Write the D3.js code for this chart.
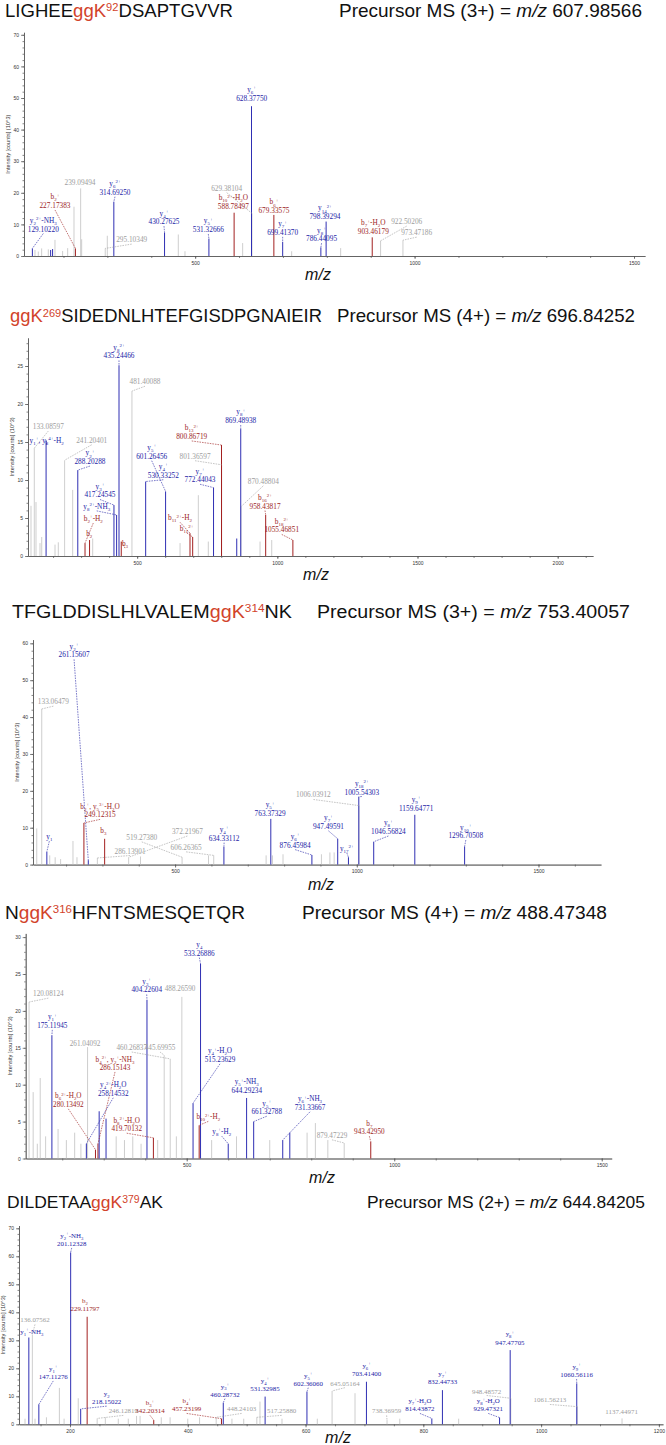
<!DOCTYPE html>
<html><head><meta charset="utf-8">
<script src="https://cdn.jsdelivr.net/npm/d3@7"></script>
<style>body{margin:0;background:#fff}svg{display:block}</style>
</head><body>
<svg id="c" width="666" height="1445"></svg>
<script>
// ================= DATA =================
const titleParts = [
  ["LIGHEE","ggK","92","DSAPTGVVR"],
  ["","ggK","269","SIDEDNLHTEFGISDPGNAIEIR"],
  ["TFGLDDISLHLVALEM","ggK","314","NK"],
  ["N","ggK","316","HFNTSMESQETQR"],
  ["DILDETAA","ggK","379","AK"]
];
const precursorCharge = ["3+","4+","3+","4+","2+"];
const precursorMz = ["607.98566","696.84252","753.40057","488.47348","644.84205"];
const yAxisTitle = "Intensity [counts] (10^3)";

// ---- panel 1 ----
const p1YTicks = [0,10,20,30,40,50,60,70];
const p1XTicks = [500,1000,1500];
const p1Peaks = [
  [129.10,2.4,'y'],[135,1.9,'u'],[142.6,1.4,'u'],[150.2,2.4,'u'],[165.4,2.1,'u'],[170.7,1.9,'y'],
  [175.12,2.2,'y'],[180.6,5.1,'u'],[198,1.6,'u'],[209.5,2.5,'u'],[223.9,15.6,'u'],[227.17,2.4,'b'],
  [239.09,21.4,'u'],[241.4,5.3,'u'],[295.10,2.4,'u'],[299.8,6.4,'u'],[314.69,17.2,'y'],[430.28,7.4,'y'],
  [461.6,6.8,'u'],[476.8,1.5,'u'],[531.33,5.5,'y'],[588.78,13.7,'b'],[608.2,4.1,'u'],[629.38,13.5,'u'],
  [628.38,47.4,'y'],[679.34,13.0,'b'],[699.41,4.5,'y'],[719.9,1.5,'u'],[786.44,2.7,'y'],[798.39,10.9,'y'],
  [831.5,2.5,'u'],[903.46,5.9,'b'],[922.50,4.8,'u'],[973.47,5.0,'u']
];
const p1Labels = [
  [129.10,'y_{2}^{2+}-NH_{3}','129.10220','y'],
  [227.17,'b_{2}^{+}','227.17383','b'],
  [239.09,'','239.09494','u'],
  [314.69,'y_{6}^{2+}','314.69250','y'],
  [295.10,'','295.10349','u'],
  [430.28,'y_{4}^{+}','430.27625','y'],
  [531.33,'y_{5}^{+}','531.32666','y'],
  [629.38,'','629.38104','u'],
  [588.78,'b_{10}^{2+}-H_{2}O','588.78497','b'],
  [628.38,'y_{6}^{+}','628.37750','y'],
  [679.34,'b_{6}^{+}','679.33575','b'],
  [699.41,'y_{7}^{+}','699.41370','y'],
  [798.39,'y_{14}^{2+}','798.39294','y'],
  [786.44,'y_{8}^{+}','786.44095','y'],
  [903.46,'b_{7}^{+}-H_{2}O','903.46179','b'],
  [922.50,'','922.50206','u'],
  [973.47,'','973.47186','u']
];
const p1LabelAt = [[154,7.75],[180.6,15.2],[237.6,22.5],[317.3,19.4],[355.4,4.4],[429,10.1],[530,7.6],
  [571.8,20.7],[587,14.9],[628.8,49.2],[679.6,13.6],[699.4,6.7],[795.8,11.7],[788,4.7],[905.9,7],[982,10.1],[1004.7,6.6]];

// ---- panel 2 ----
const p2YTicks = [0,5,10,15,20,25];
const p2XTicks = [500,1000,1500,2000];
const p2Peaks = [
  [121.3,6.6,'u'],[133.09,14.2,'u'],[139.1,7.1,'u'],[153.4,1.7,'u'],[159.5,2.5,'u'],[175.12,15.2,'y'],
  [207,1.5,'u'],[218.7,1.8,'u'],[241.20,12.6,'u'],[270,8.7,'u'],[288.20,11.3,'y'],[314,1.7,'b'],
  [330.18,2.1,'b'],[341.4,2.3,'u'],[417.25,6.7,'y'],[426.73,5.4,'y'],[435.24,25.1,'y'],[443.26,1.9,'b'],
  [481.40,21.7,'u'],[530.33,9.8,'y'],[601.36,8.5,'y'],[653,1.7,'u'],[688.5,3.0,'b'],[698,2.5,'b'],
  [718.2,8.0,'u'],[753.8,1.9,'u'],[772.44,9.0,'y'],[801.37,12,'u'],[800.87,14.6,'b'],[855.2,2.3,'y'],
  [870.49,6.5,'u'],[869.49,16.7,'y'],[938.3,1.9,'u'],[958.44,5.4,'b'],[980,2.1,'u'],[1055.47,2.1,'b']
];
const p2Labels = [
  [133.09,'','133.08597','u'],
  [175.12,'y_{1}^{+}, y_{8}^{4+}-H_{2}','','y'],
  [241.20,'','241.20401','u'],
  [288.20,'y_{2}^{+}','288.20288','y'],
  [417.25,'y_{3}^{+}','417.24545','y'],
  [426.73,'y_{8}^{2+}-NH_{3}','','y'],
  [314,'b_{2}^{+}-H_{2}','','b'],
  [330.18,'b_{2}','','b'],
  [435.24,'y_{8}^{2+}','435.24466','y'],
  [443.26,'b_{3}','','b'],
  [481.40,'','481.40088','u'],
  [601.36,'y_{5}^{+}','601.26456','y'],
  [530.33,'y_{4}^{+}','530.33252','y'],
  [772.44,'y_{7}^{+}','772.44043','y'],
  [800.87,'b_{13}^{2+}','800.86719','b'],
  [801.37,'','801.36597','u'],
  [869.49,'y_{8}^{+}','869.48938','y'],
  [870.49,'','870.48804','u'],
  [958.44,'b_{16}^{2+}','958.43817','b'],
  [1055.47,'b_{18}^{2+}','1055.46851','b'],
  [688.5,'b_{11}^{2+}-H_{2}','','b'],
  [698,'b_{11}^{2+}','','b']
];
const p2LabelAt = [[183,16.7],[177.3,14.9],[337.8,14.9],[331.7,12.1],[367.4,7.7],[355.7,6.2],[343.5,4.6],
  [329.2,2.6],[435.2,26],[456.6,1.3],[528,22.6],[551.9,12.8],[593.3,10.3],[724.2,9.7],[694.6,15.4],
  [706.4,12.8],[869.4,17.5],[950,9.5],[956.1,6.25],[1015.7,3.1],[652.9,4.7],[676.8,3.3]];

// ---- panel 3 ----
const p3YTicks = [0,10,20,30,40,50,60];
const p3XTicks = [500,1000,1500];
const p3Peaks = [
  [119.3,9.8,'u'],[133.06,42.2,'u'],[147.11,3.5,'y'],[155,2.5,'u'],[170,2,'u'],[185,1.5,'u'],
  [219,6.4,'u'],[230,2,'u'],[249.12,11.3,'b'],[261.16,1.2,'y'],[286.14,1.8,'u'],[306.14,7.0,'b'],
  [372.22,2,'u'],[404.9,2.2,'u'],[519.27,2,'u'],[592,2.5,'u'],[606.26,2.5,'u'],[634.33,4.8,'y'],
  [750.5,2.5,'u'],[763.37,12.4,'y'],[767.9,2.5,'u'],[797,2.8,'u'],[876.46,2.6,'y'],[902.7,2.8,'u'],
  [926,3.3,'u'],[937.7,3.3,'u'],[947.50,7,'y'],[977.03,2,'y'],[1006.04,16,'u'],[1005.54,18.4,'y'],
  [1046.57,6.2,'y'],[1159.65,13.5,'y'],[1296.71,4.9,'y']
];
const p3Labels = [
  [261.16,'y_{2}^{+}','261.15607','y'],
  [133.06,'','133.06479','u'],
  [249.12,'b_{2}^{+}, y_{5}^{3+}-H_{2}O','249.12315','b'],
  [306.14,'b_{3}','','b'],
  [147.11,'y_{1}','','y'],
  [286.14,'','286.13901','u'],
  [519.27,'','519.27380','u'],
  [372.22,'','372.21967','u'],
  [606.26,'','606.26365','u'],
  [634.33,'y_{4}^{+}','634.33112','y'],
  [763.37,'y_{5}^{+}','763.37329','y'],
  [876.46,'y_{6}^{+}','876.45984','y'],
  [1006.04,'','1006.03912','u'],
  [947.50,'y_{7}^{+}','947.49591','y'],
  [977.03,'y_{17}^{2+}','','y'],
  [1005.54,'y_{18}^{2+}','1005.54303','y'],
  [1046.57,'y_{8}^{+}','1046.56824','y'],
  [1159.65,'y_{9}^{+}','1159.64771','y'],
  [1296.71,'y_{10}^{+}','1296.70508','y']
];
const p3LabelAt = [[222,56.2],[165,43.5],[293.6,12.8],[302.6,8.6],[154,6.9],[376,3.0],[408.3,6.7],
  [533.9,8.3],[530.3,4],[634.9,6.5],[761.5,13.2],[830.3,4.6],[880.7,18.2],[922,9.7],[972.6,3.7],
  [1013.9,19],[1087,8.3],[1163.4,14.6],[1300,7.2]];

// ---- panel 4 ----
const p4YTicks = [0,5,10,15,20,25,30];
const p4XTicks = [500,1000,1500];
const p4Peaks = [
  [120.08,21.2,'u'],[130,9,'u'],[140,2,'u'],[147,10.9,'u'],[160,3,'u'],[175.12,16.7,'y'],[190,4,'u'],
  [210,2.5,'u'],[230,3.5,'u'],[245,2,'u'],[258.15,2,'y'],[261.04,15.1,'u'],[280.13,1.2,'b'],
  [286.15,2,'b'],[289,6.4,'y'],[305.6,5.4,'y'],[330,3,'u'],[350,2.5,'u'],[370,3,'u'],[390,2,'u'],
  [404.23,21.5,'y'],[419.70,2.8,'b'],[430,2.5,'u'],[445.70,14,'u'],[460.27,13.5,'u'],[475,3,'u'],
  [488.27,21.9,'u'],[515.24,7.5,'y'],[530,4.5,'b'],[533.27,26.4,'y'],[560,2.5,'u'],[600,2,'y'],
  [620,3,'u'],[644.29,8.2,'y'],[661.33,5,'y'],[700,2.5,'u'],[731.34,2.5,'y'],[748.36,3.5,'y'],
  [790,3.5,'u'],[810,4.8,'u'],[840,2.5,'u'],[879.47,2.1,'u'],[943.43,2.3,'b']
];
const p4Labels = [
  [120.08,'','120.08124','u'],
  [175.12,'y_{1}^{+}','175.11945','y'],
  [261.04,'','261.04092','u'],
  [460.27,'','460.26837','u'],
  [445.70,'','445.69955','u'],
  [286.15,'b_{4}^{2+}, y_{2}^{+}-NH_{3}','286.15143','b'],
  [258.15,'y_{4}^{2+}-H_{2}O','258.14532','y'],
  [280.13,'b_{6}^{2+}-H_{2}O','280.13492','b'],
  [419.70,'b_{8}^{2+}-H_{2}O','419.70132','b'],
  [404.23,'y_{3}^{+}','404.22604','y'],
  [488.27,'','488.26590','u'],
  [533.27,'y_{4}','533.26886','y'],
  [515.24,'y_{4}^{+}-H_{2}O','515.23629','y'],
  [644.29,'y_{5}^{+}-NH_{3}','644.29234','y'],
  [661.33,'y_{5}^{+}','661.32788','y'],
  [731.34,'y_{6}^{+}-NH_{3}','731.33667','y'],
  [530,'b_{10}^{2+}-H_{2}','','b'],
  [600,'y_{8}^{+}-H_{2}','','y'],
  [879.47,'','879.47229','u'],
  [943.43,'b_{7}','943.42950','b']
];
const p4LabelAt = [[166.5,22],[176.1,17.7],[255,15.3],[367.5,14.7],[435.7,14.7],[327.2,12],[323,8.5],
  [214.7,7],[355.4,3.7],[403.6,22.5],[483.9,22.7],[530.4,27.5],[580.2,13.1],[644.6,8.9],[692.8,6],
  [797.1,6.6],[552,5.3],[584.3,3.3],[850,2.8],[940,3.3]];

// ---- panel 5 ----
const p5YTicks = [0,10,20,30,40,50,60,70];
const p5XTicks = [200,400,600,800,1000,1200];
const p5Peaks = [
  [123.6,2,'u'],[130.09,31,'y'],[136.08,32,'u'],[140.6,2,'u'],[147.11,7.1,'y'],[160,2.5,'u'],
  [182,13,'u'],[190,2,'u'],[201.12,61.4,'y'],[214,9.3,'u'],[218.15,5.5,'y'],[229.12,38.4,'b'],
  [246.13,2.1,'u'],[260,2.5,'u'],[282,2,'u'],[299,2,'u'],[313,3,'u'],[319,3,'u'],[342.20,1.5,'b'],
  [355,2.5,'u'],[370,2.5,'u'],[400,2,'u'],[420,2.5,'u'],[448.24,2.5,'u'],[457.23,2,'b'],[460.29,7.7,'y'],
  [475,2,'u'],[495,2,'u'],[517.26,2.5,'u'],[522.6,8.1,'u'],[531.33,9.9,'y'],[560,2,'u'],[602.36,11.6,'y'],
  [620,2,'u'],[645.05,11.9,'u'],[684,11.1,'u'],[703.41,15.2,'y'],[738.37,1.5,'u'],[760,2,'u'],
  [814.44,2.1,'y'],[832.45,12.2,'y'],[860,2,'u'],[929.47,2.4,'y'],[948.49,9.3,'u'],[947.48,26.5,'y'],
  [1061.56,6.3,'u'],[1060.56,14.6,'y'],[1137.45,2.1,'u']
];
const p5Labels = [
  [136.08,'','136.07562','u'],
  [130.09,'y_{1}^{+}-NH_{3}','','y'],
  [147.11,'y_{1}^{+}','147.11276','y'],
  [201.12,'y_{2}^{+}-NH_{3}','201.12328','y'],
  [229.12,'b_{2}','229.11797','b'],
  [218.15,'y_{2}','218.15022','y'],
  [246.13,'','246.12819','u'],
  [342.20,'b_{3}^{+}','342.20314','b'],
  [457.23,'b_{4}^{+}','457.23199','b'],
  [460.29,'y_{3}^{+}','460.28732','y'],
  [448.24,'','448.24103','u'],
  [531.33,'y_{4}^{+}','531.32985','y'],
  [517.26,'','517.25880','u'],
  [602.36,'y_{5}^{+}','602.36060','y'],
  [645.05,'','645.05164','u'],
  [703.41,'y_{6}^{+}','703.41400','y'],
  [738.37,'','738.36959','u'],
  [814.44,'y_{7}^{+}-H_{2}O','814.43872','y'],
  [832.45,'y_{7}^{+}','832.44733','y'],
  [948.49,'','948.48572','u'],
  [929.47,'y_{8}^{+}-H_{2}O','929.47321','y'],
  [947.48,'y_{8}^{+}','947.47705','y'],
  [1061.56,'','1061.56213','u'],
  [1060.56,'y_{9}^{+}','1060.56116','y'],
  [1137.45,'','1137.44971','u']
];
const p5LabelAt = [[140.6,36.4],[135,32.3],[171.6,16.2],[202.9,63.7],[225.5,40.5],[262.3,7.2],[290.5,3.9],
  [335.8,3.9],[398.1,4.6],[463.2,9.9],[491.5,4.6],[531.1,12],[559.4,3.9],[604.6,13.8],[666.9,13.8],
  [703.7,17.3],[737.7,3.9],[794.2,4.6],[832.7,14.3],[907.5,11],[910.2,4.6],[947,28.5],[1015,7.8],
  [1060.3,16.9],[1136.7,3.6]];

// ================= LAYOUT =================
const L = [
 {tY:17, tX:5, tW:228, pW:303, pEnd:642, fs:18.4, ax0:24, ax1:645, xd:[110,1525], y0:256, ppu:3.16, yTop:70.8, xMinor:100, yMinor:2, mzX:318, mzY:280, lfs:7.3},
 {tY:322, tX:10, tW:312, pW:298, pEnd:635, fs:18.2, ax0:28, ax1:593, xd:[110.6,2126], y0:556, ppu:7.6, yTop:28.7, xMinor:100, yMinor:1, mzX:316, mzY:580, lfs:7.3},
 {tY:618, tX:12, tW:280, pW:313, pEnd:630, fs:19.1, ax0:33, ax1:601, xd:[109,1672], y0:864.6, ppu:3.688, yTop:61, xMinor:100, yMinor:2, mzX:321, mzY:890, lfs:7.3},
 {tY:919, tX:5, tW:240, pW:305, pEnd:607, fs:18.7, ax0:25.7, ax1:611.7, xd:[112,1524], y0:1158.5, ppu:7.38, yTop:30.5, xMinor:100, yMinor:1, mzX:322, mzY:1183, lfs:7.2},
 {tY:1208, tX:7, tW:156, pW:278, pEnd:645, fs:17, ax0:19, ax1:663, xd:[113.4,1207], y0:1424.3, ppu:2.8, yTop:71, xMinor:50, yMinor:2, mzX:338, mzY:1443, lfs:6.9}
];
const SANS = "'Liberation Sans', Arial, Helvetica, sans-serif";
const SERIF = "'Liberation Serif', 'Times New Roman', serif";
const RED = '#d2432b';
const LINE = {y:'#2f2fb3', b:'#a32020', u:'#c2c2c2'};
const TXT = {y:'#2323a6', b:'#9c1d1d', u:'#9d9d9d'};

const panels = [
  {peaks:p1Peaks, labels:p1Labels, at:p1LabelAt, yT:p1YTicks, xT:p1XTicks},
  {peaks:p2Peaks, labels:p2Labels, at:p2LabelAt, yT:p2YTicks, xT:p2XTicks},
  {peaks:p3Peaks, labels:p3Labels, at:p3LabelAt, yT:p3YTicks, xT:p3XTicks},
  {peaks:p4Peaks, labels:p4Labels, at:p4LabelAt, yT:p4YTicks, xT:p4XTicks},
  {peaks:p5Peaks, labels:p5Labels, at:p5LabelAt, yT:p5YTicks, xT:p5XTicks}
];

const svg = d3.select('#c');

function rich(sel, s, fs) {
  const re = /(_\{[^}]*\}|\^\{[^}]*\})|([^_^]+)/g;
  let m, cur = 0;
  while ((m = re.exec(s))) {
    let t, off = 0, size = fs;
    if (m[1]) {
      const sub = m[1][0] === '_';
      t = m[1].slice(2, -1);
      off = sub ? fs * 0.28 : -fs * 0.38;
      size = fs * 0.68;
    } else t = m[2];
    sel.append('tspan').attr('dy', (off - cur).toFixed(2)).style('font-size', size + 'px').text(t);
    cur = off;
  }
}

panels.forEach((P, i) => {
  const c = L[i];
  const g = svg.append('g');
  const x = d3.scaleLinear().domain(c.xd).range([c.ax0, c.ax1]);
  const y = d3.scaleLinear().domain([0, c.yTop]).range([c.y0, c.y0 - c.yTop * c.ppu]);

  // title (peptide)
  const tp = titleParts[i];
  const t = g.append('text').attr('x', c.tX).attr('y', c.tY)
    .style('font-family', SANS).style('font-size', c.fs + 'px')
    .attr('textLength', c.tW).attr('lengthAdjust', 'spacingAndGlyphs');
  if (tp[0]) t.append('tspan').attr('fill', '#111').text(tp[0]);
  t.append('tspan').attr('fill', RED).text(tp[1]);
  t.append('tspan').attr('fill', RED).attr('dy', -c.fs * 0.3).style('font-size', (c.fs * 0.6) + 'px').text(tp[2]);
  t.append('tspan').attr('fill', '#111').attr('dy', c.fs * 0.3).text(tp[3]);

  // precursor
  const pt = g.append('text').attr('x', c.pEnd - c.pW).attr('y', c.tY)
    .style('font-family', SANS).style('font-size', c.fs + 'px').attr('fill', '#111')
    .attr('textLength', c.pW).attr('lengthAdjust', 'spacingAndGlyphs');
  pt.append('tspan').text('Precursor MS (' + precursorCharge[i] + ') = ');
  pt.append('tspan').style('font-style', 'italic').text('m/z');
  pt.append('tspan').text(' ' + precursorMz[i]);

  // axes
  const minorX = d3.range(Math.ceil(c.xd[0] / c.xMinor) * c.xMinor, c.xd[1], c.xMinor);
  const minorY = d3.range(0, c.yTop, c.yMinor);
  const axX = g.append('g').attr('transform', `translate(0,${c.y0})`);
  axX.call(d3.axisBottom(x).tickValues(minorX).tickSize(2).tickFormat('').tickSizeOuter(0));
  const axXM = g.append('g').attr('transform', `translate(0,${c.y0})`);
  axXM.call(d3.axisBottom(x).tickValues(P.xT).tickSize(3).tickPadding(2).tickFormat(d3.format('d')).tickSizeOuter(0));
  const axY = g.append('g').attr('transform', `translate(${c.ax0},0)`);
  axY.call(d3.axisLeft(y).tickValues(minorY).tickSize(1.5).tickFormat('').tickSizeOuter(0));
  const axYM = g.append('g').attr('transform', `translate(${c.ax0},0)`);
  axYM.call(d3.axisLeft(y).tickValues(P.yT).tickSize(3).tickPadding(2).tickFormat(d3.format('d')).tickSizeOuter(0));
  [axX, axXM, axY, axYM].forEach(a => {
    a.selectAll('path,line').attr('stroke', '#555').attr('stroke-width', 0.7);
    a.selectAll('text').attr('fill', '#333').style('font-family', SANS).style('font-size', '5px');
  });

  // axis titles
  g.append('text').attr('transform', `translate(${c.ax0 - 14},${(c.y0 + y(c.yTop)) / 2}) rotate(-90)`)
    .attr('text-anchor', 'middle').style('font-family', SANS).style('font-size', '5.6px').attr('fill', '#333')
    .text(yAxisTitle);
  g.append('text').attr('x', c.mzX).attr('y', c.mzY).attr('text-anchor', 'middle')
    .style('font-family', SANS).style('font-size', '16px').style('font-style', 'italic').attr('fill', '#111')
    .text('m/z');

  // peaks (grey first)
  const sorted = P.peaks.slice().sort((a, b) => (a[2] === 'u' ? 0 : 1) - (b[2] === 'u' ? 0 : 1));
  g.append('g').selectAll('line').data(sorted).join('line')
    .attr('x1', d => x(d[0])).attr('x2', d => x(d[0]))
    .attr('y1', y(0)).attr('y2', d => y(d[1]))
    .attr('stroke', d => LINE[d[2]]).attr('stroke-width', d => d[2] === 'u' ? 0.8 : 1);

  // labels
  const lg = g.append('g');
  P.labels.forEach((lab, k) => {
    const [pmz, ion, val, type] = lab;
    const [lmz, lv] = P.at[k];
    const lx = x(lmz), ly = y(lv);
    const col = TXT[type];
    if (val) {
      lg.append('text').attr('x', lx).attr('y', ly).attr('text-anchor', 'middle')
        .style('font-family', SERIF).style('font-size', c.lfs + 'px').attr('fill', col).text(val);
    }
    if (ion) {
      const it = lg.append('text').attr('x', lx).attr('y', val ? ly - c.lfs * 1.17 : ly)
        .attr('text-anchor', 'middle').style('font-family', SERIF).style('font-size', c.lfs + 'px').attr('fill', col);
      rich(it, ion, c.lfs);
    }
    const pk = P.peaks.find(p => p[0] === pmz);
    if (pk) {
      const px = x(pk[0]), py = y(pk[1]);
      const sy = ly + 2;
      if (Math.abs(px - lx) > 3 || Math.abs(py - sy) > 4) {
        lg.append('line').attr('x1', lx).attr('y1', sy).attr('x2', px).attr('y2', py)
          .attr('stroke', col).attr('stroke-width', 0.6).attr('stroke-dasharray', '1.6,1');
      }
    }
  });
});
</script>
</body></html>
